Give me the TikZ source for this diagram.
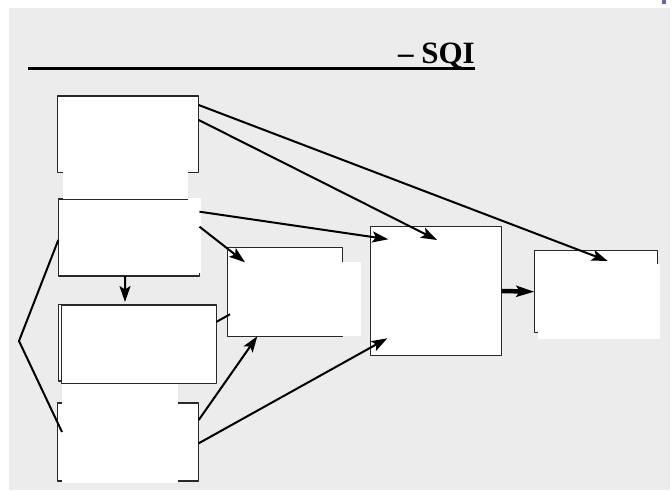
\documentclass[tikz,border=0pt]{standalone}
\usepackage{fontspec}
\setmainfont{Liberation Serif}
\usetikzlibrary{arrows.meta}
\definecolor{slidebg}{RGB}{236,236,236}
\definecolor{slidemark}{RGB}{102,102,170}
\definecolor{boxline}{RGB}{40,40,40}
\tikzset{
  blk/.style={draw=boxline,line width=1.1bp,fill=white,inner sep=0pt,outer sep=0pt,anchor=north west},
  patch/.style={fill=white,draw=none},
  link/.style={line width=2bp,-{Stealth[length=16bp,width=11bp,inset=3.5bp]}},
  plain/.style={line width=2bp},
}
\begin{document}
\begin{tikzpicture}[x=1bp,y=-1bp,line join=bevel]
\useasboundingbox (0,0) rectangle (672,492);
  % Slide
  \fill[slidebg] (9,8) rectangle (670,490);
  \fill[slidemark] (662,0) rectangle (666,4);
  \node[anchor=base east,inner sep=0pt,font=\bfseries\fontsize{31bp}{34bp}\selectfont] (title) at (475,64) {– SQI};
  \draw[line width=3.4bp] (28,68.6) -- (475,68.6);
  % Node: ctxA
  \node[blk,minimum width=141.4bp,minimum height=76.7bp] (ctxA) at (57.3,96) {};
  % Node: ctxB
  \node[blk,minimum width=141.2bp,minimum height=77bp] (ctxB) at (58.3,199) {};
  % Node: ctxC (two sheets)
  \node[blk,minimum width=139.7bp,minimum height=76.7bp] (ctxCback) at (58.3,304.3) {};
  \node[blk,minimum width=155bp,minimum height=78.7bp] (ctxC) at (61.7,305) {};
  % Node: ctxD
  \node[blk,minimum width=141.4bp,minimum height=78bp] (ctxD) at (57.3,403) {};
  % Node: mid
  \node[blk,minimum width=115.4bp,minimum height=88.6bp] (mid) at (227.3,247.7) {};
  % Node: core
  \node[blk,minimum width=131bp,minimum height=128.6bp] (core) at (370.7,226.7) {};
  % Node: sqi
  \node[blk,minimum width=123bp,minimum height=82bp] (sqi) at (534.3,250.7) {};
  % text backgrounds
  \fill[patch] (63,172) rectangle (188.3,199);
  \fill[patch] (188.3,198) rectangle (200.5,272.5);
  \fill[patch] (62,384) rectangle (178,483);
  \fill[patch] (229,262) rectangle (361,336);
  \fill[patch] (538.3,264) rectangle (660,338.7);
  % arrow ends
  \coordinate (sqiIn) at (607.7,261);
  \coordinate (coreIn1) at (437,240);
  \coordinate (coreIn2) at (388.3,239.3);
  \coordinate (coreIn3) at (387.3,338.3);
  \coordinate (midIn1) at (245,262.3);
  \coordinate (midIn2) at (257.3,336.3);
  \coordinate (midIn3) at (230,314.3);
  \coordinate (ctxCIn) at (125,302);
  \coordinate (fork) at (19,341);
  \coordinate (forkEnd) at (62,432);
  % Edge: ctxA -> sqi
  \draw[link] ([yshift=-9bp]ctxA.north east) -- (sqiIn);
  % Edge: ctxA -> core
  \draw[link] ([yshift=-24bp]ctxA.north east) -- (coreIn1);
  % Edge: ctxB -> core
  \draw[link] ([yshift=-12.7bp]ctxB.north east) -- (coreIn2);
  % Edge: ctxB -> mid
  \draw[link] ([yshift=-27.7bp]ctxB.north east) -- (midIn1);
  % Edge: ctxB -> ctxC
  \draw[link] ([xshift=-3.9bp]ctxB.south) -- (ctxCIn);
  % Edge: ctxC -> mid
  \draw[plain] ([yshift=-16.7bp]ctxC.north east) -- (midIn3);
  % Edge: ctxD -> mid
  \draw[link] ([yshift=-17bp]ctxD.north east) -- (midIn2);
  % Edge: ctxD -> core
  \draw[link] ([yshift=-40.3bp]ctxD.north east) -- (coreIn3);
  % Edge: core -> sqi
  \draw[line width=4.5bp,-{Stealth[length=18bp,width=11bp,inset=3.5bp]}] (core.east) -- (sqi.west);
  % bracket ctxB / ctxD
  \draw[plain] ([yshift=-2.5bp]ctxB.west) -- (fork) -- (forkEnd);
\end{tikzpicture}
\end{document}
